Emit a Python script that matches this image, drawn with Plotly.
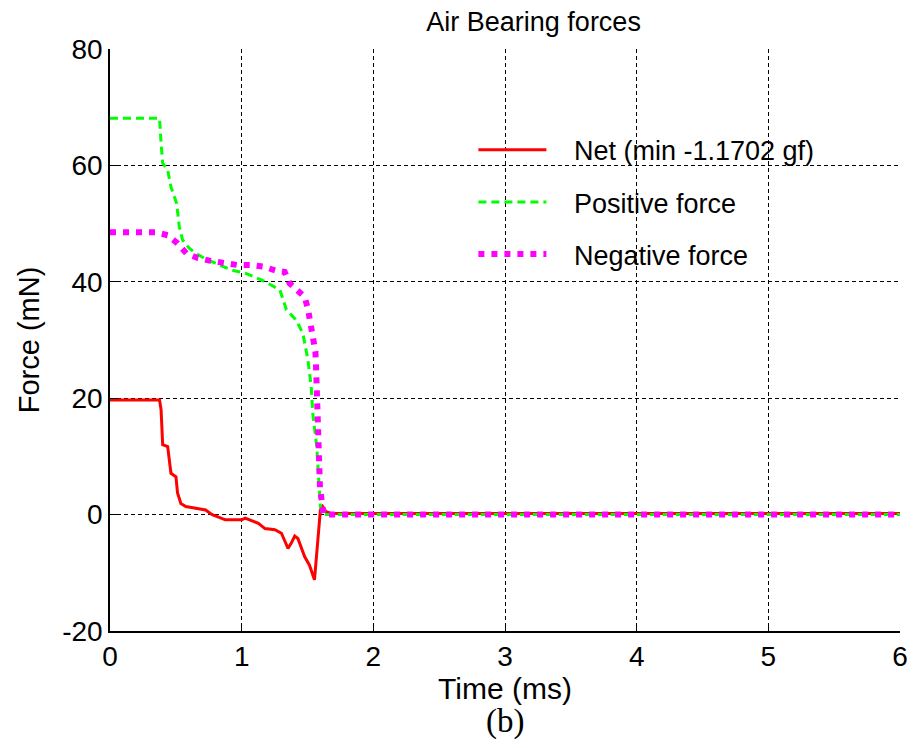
import plotly.graph_objects as go

# ---- data ----
t_net = [0, 0.376, 0.388, 0.395, 0.40, 0.438, 0.451, 0.463, 0.501, 0.513, 0.538, 0.576,
         0.651, 0.726, 0.776, 0.876, 1.0, 1.027, 1.127, 1.177, 1.252, 1.302, 1.352, 1.377,
         1.403, 1.427, 1.478, 1.515, 1.553, 1.565, 1.583, 1.598, 1.615, 1.64, 1.678, 6.0]
net = [19.7, 19.7, 18.0, 14.5, 12.0, 11.7, 9.4, 7.1, 6.5, 3.7, 1.9, 1.4,
       1.1, 0.8, 0.0, -0.9, -0.9, -0.6, -1.5, -2.4, -2.6, -3.2, -5.8, -4.9,
       -3.7, -4.1, -7.2, -8.7, -11.2, -7.8, -2.6, 0.8, 1.4, 0.5, 0.2, 0.2]

t_pos = [0, 0.376, 0.388, 0.40, 0.438, 0.463, 0.506, 0.526, 0.551, 0.60, 0.651, 0.72,
         0.80, 0.926, 1.027, 1.152, 1.227, 1.29, 1.34, 1.415, 1.465, 1.503, 1.528, 1.54,
         1.57, 1.583, 1.598, 1.62, 6.0]
pos = [68.1, 68.1, 63.8, 60.4, 59.2, 56.3, 53.5, 49.5, 47.2, 45.8, 44.9, 44.0,
       43.2, 42.0, 41.5, 40.3, 39.4, 38.6, 35.2, 33.4, 31.1, 26.6, 22.0, 17.4,
       11.7, 6.5, 1.4, 0.0, 0.0]

t_neg = [0, 0.35, 0.438, 0.513, 0.58, 0.664, 0.764, 0.864, 0.964, 1.064, 1.165, 1.265,
         1.327, 1.365, 1.42, 1.478, 1.503, 1.523, 1.54, 1.56, 1.565, 1.573, 1.578, 1.585,
         1.595, 1.623, 6.0]
neg = [48.5, 48.5, 48.0, 46.6, 44.9, 44.1, 43.6, 43.2, 42.9, 42.9, 42.6, 41.9,
       41.7, 39.7, 38.5, 37.4, 35.4, 33.1, 30.6, 28.0, 25.4, 20.8, 14.0, 9.4,
       4.5, 0.0, 0.0]

x_ticks = [0, 1, 2, 3, 4, 5, 6]
y_ticks = [-20, 0, 20, 40, 60, 80]
y_ticktext = ["-20", "0", "20", "40", "60", "80"]

names = ["Net (min -1.1702 gf)", "Positive force", "Negative force"]

FONT = "Arial, 'Liberation Sans', sans-serif"
PAD = "\u00a0\u00a0\u00a0"

fig = go.Figure()
fig.add_trace(go.Scatter(x=t_net, y=net, mode="lines", name=PAD + names[0], legendgroup="a",
                         line=dict(color="#ff0000", width=3)))
fig.add_trace(go.Scatter(x=t_pos, y=pos, mode="lines", name=PAD + names[1], legendgroup="b",
                         line=dict(color="#00ff00", width=3, dash="8px,5px")))
fig.add_trace(go.Scatter(x=t_neg, y=neg, mode="lines", name=PAD + names[2], legendgroup="c",
                         line=dict(color="#ff00ff", width=6, dash="6px,7px")))

axis_common = dict(
    showgrid=True, gridcolor="black", gridwidth=1, griddash="4px,3px",
    showline=True, linecolor="black", linewidth=1.5,
    ticks="inside", ticklen=8, tickcolor="black",
    zeroline=False,
    tickfont=dict(family=FONT, size=28, color="black"),
)

fig.update_xaxes(range=[0, 6], tickvals=x_ticks, **axis_common,
                 title=dict(text="Time (ms)", font=dict(family=FONT, size=30, color="black"),
                            standoff=4))
fig.update_yaxes(range=[-20, 80], tickvals=y_ticks, ticktext=y_ticktext, **axis_common,
                 title=dict(text="Force (mN)", font=dict(family=FONT, size=29, color="black"),
                            standoff=14))

fig.update_layout(
    width=920, height=748,
    margin=dict(l=110, r=12, t=49, b=117),
    paper_bgcolor="white", plot_bgcolor="white",
    title=dict(text="Air Bearing forces", x=0.58, xanchor="center", y=1 - 22 / 748,
               yanchor="middle", font=dict(family=FONT, size=27, color="black")),
    legend=dict(x=0.46, y=0.868, xanchor="left", yanchor="top",
                bgcolor="rgba(0,0,0,0)", borderwidth=0,
                font=dict(family=FONT, size=27, color="black"),
                tracegroupgap=14, itemwidth=68),
    showlegend=True,
    annotations=[dict(text="(b)", xref="paper", yref="paper", x=0.5, y=-(722 - 631) / 582,
                      showarrow=False,
                      font=dict(family="'Times New Roman', 'Liberation Serif', serif",
                                size=33, color="black"),
                      xanchor="center", yanchor="middle")],
)

fig.write_html("out.html")
